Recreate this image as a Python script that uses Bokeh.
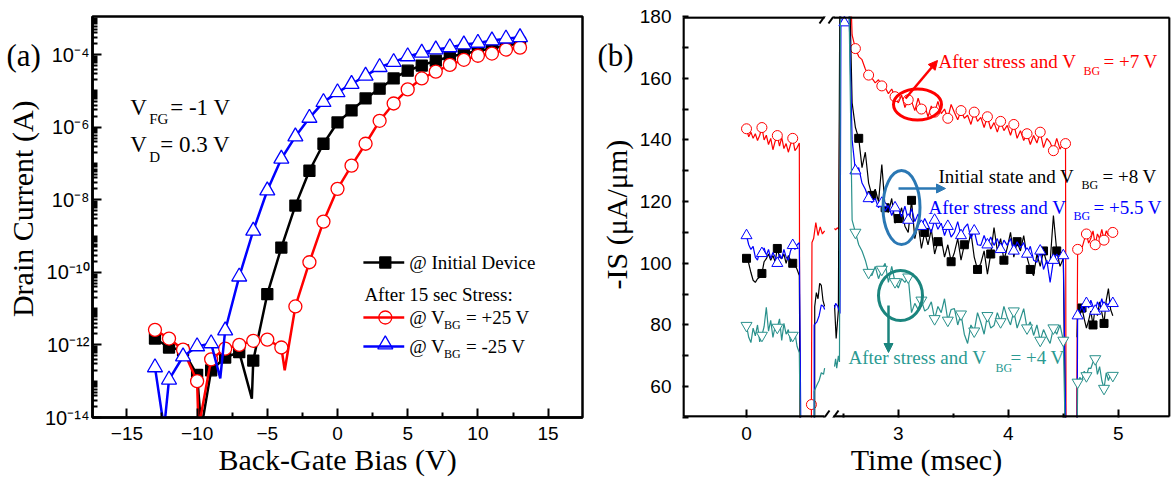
import numpy as np
from bokeh.plotting import figure
from bokeh.layouts import row
from bokeh.models import FixedTicker, Label, Arrow, NormalHead, Range1d
from bokeh.embed import file_html
from bokeh.resources import INLINE

SERIF = "Liberation Serif"
SANS = "Liberation Sans"

# ---------------- Panel (a) data ----------------
vbg = list(range(-13, 14))
id_initial = [1.5e-12, 8.5e-13, 7.1e-13, 1.5e-13, 2.0e-13, 4.5e-13, 6.3e-13, 3.7e-13, 2.5e-11,
              4.8e-10, 6.9e-9, 6.3e-8, 3.5e-7, 1.35e-6, 2.9e-6, 6.2e-6, 1.15e-5, 2.2e-5, 3.6e-5,
              5.0e-5, 6.8e-5, 8.7e-5, 1.05e-4, 1.25e-4, 1.5e-4, 1.75e-4, 2.1e-4]
id_pos25 = [2.6e-12, 1.5e-12, 7.4e-13, 1.0e-13, 4.0e-13, 7.9e-13, 1.0e-12, 1.3e-12, 1.4e-12,
            8.5e-13, 1.15e-11, 1.9e-10, 2.5e-9, 2.0e-8, 8.7e-8, 3.5e-7, 1.5e-6, 4.5e-6, 1.1e-5,
            2.2e-5, 3.4e-5, 5.2e-5, 7.2e-5, 9.3e-5, 1.07e-4, 1.38e-4, 1.55e-4]
id_neg25 = [2.4e-13, 1.1e-13, 4.8e-13, 9.1e-13, 1.1e-12, 2.5e-12, 7.6e-11, 1.4e-9, 1.8e-8,
            1.35e-7, 5.5e-7, 1.8e-6, 4.9e-6, 9.1e-6, 1.55e-5, 2.6e-5, 4.5e-5, 6.2e-5, 8.9e-5,
            1.12e-4, 1.38e-4, 1.58e-4, 1.9e-4, 2.1e-4, 2.45e-4, 2.75e-4, 3.0e-4]
# sign-change dips of |I| (between the measured points)
dip_initial_v = [-9.7, -6.1]
dip_initial_i = [5e-15, 3.3e-14]
dip_pos25_v = [-9.9, -3.76]
dip_pos25_i = [5e-15, 2.0e-13]
dip_neg25_v = [-12.35, -8.35]
dip_neg25_i = [5e-15, 1.2e-13]

# ---------------- Panel (b) data ----------------
t_left = [round(0.02 * i, 3) for i in range(25)]
red_left = [143.6, 141.0, 142.5, 140.5, 142.0, 139.8, 141.5, 144.0, 140.0, 141.5, 138.5, 140.5, 136.8,
            139.5, 141.4, 138.0, 140.8, 137.2, 138.8, 136.0, 138.5, 140.5, 136.5, 137.5, 139.0]
black_left = [101.6, 100.0, 97.0, 94.5, 93.8, 95.0, 95.5, 96.7, 100.5, 101.5, 103.0, 101.0, 102.5,
              100.5, 104.8, 102.0, 101.5, 103.0, 100.0, 102.5, 101.0, 100.0, 99.5, 98.0, 96.0]
blue_left = [109.0, 106.0, 104.5, 105.5, 102.0, 101.0, 104.0, 103.2, 105.0, 102.5, 104.5, 101.5, 103.5,
             102.0, 100.0, 103.0, 101.5, 104.5, 102.0, 101.0, 104.0, 105.8, 104.5, 106.0, 106.7]
teal_left = [79.8, 76.0, 74.3, 79.0, 76.5, 80.0, 74.5, 76.6, 79.5, 85.7, 78.0, 81.5, 76.0,
             79.5, 79.2, 82.0, 75.0, 80.5, 77.0, 78.5, 74.5, 76.6, 77.5, 73.0, 71.0]

red_mid_t = [0.59, 0.59, 0.595, 0.61, 0.63, 0.65, 0.67, 0.69, 0.71]
red_mid = [40, 54.2, 106.7, 108, 113.2, 109, 111.8, 109.5, 110.5]
black_mid_t = [0.62, 0.62, 0.635, 0.65, 0.665, 0.68, 0.695, 0.71]
black_mid = [40, 86, 90.5, 88.5, 93.5, 92.8, 88, 86]
blue_mid_t = [0.615, 0.615, 0.64, 0.66, 0.68, 0.70, 0.71]
blue_mid = [40, 80, 81, 83, 86.5, 86, 85]
teal_mid_t = [0.615, 0.615, 0.64, 0.66, 0.68, 0.70, 0.71]
teal_mid = [40, 58.5, 60.5, 62, 64.5, 64, 66]

red_pre_t = [2.42, 2.43, 2.445, 2.46, 2.475, 2.555]
red_pre = [111.3, 110.8, 111.5, 111.0, 200, 200]
black_pre_t = [2.42, 2.435, 2.455, 2.47, 2.55]
black_pre = [86.5, 75.6, 84.7, 200, 200]
blue_pre_t = [2.42, 2.43, 2.45, 2.47, 2.48, 2.51, 2.54]
blue_pre = [85.5, 87.0, 86.0, 83.7, 200, 178, 200]
teal_pre_t = [2.42, 2.43, 2.44, 2.455, 2.465, 2.475, 2.545]
teal_pre = [66.5, 69.0, 66.0, 70.0, 68.0, 200, 200]

t_post = [round(2.58 + 0.03 * i, 3) for i in range(65)]
red_post = [174, 169.6, 167, 166, 163, 161, 160, 158.5, 159.5, 157.5,
            157, 155, 156.5, 154, 152, 154.5, 150.5, 153, 152.5, 149.5,
            153.5, 150, 151.2, 147.5, 151, 149, 152.5, 148.5, 150, 147,
            151.5, 148.9, 146.5, 149.5, 147, 148, 145, 149, 146, 147.3,
            144, 147.5, 143.5, 145.6, 142.5, 146, 143, 144.7, 141.5, 145,
            140.5, 143, 139.8, 142, 138.5, 141.4, 139, 142.5, 137.5, 140.5,
            139.2, 136.5, 140.5, 137, 139]
black_post = [152, 144, 140.5, 131, 136, 126, 122, 124, 120, 132,
              118, 116.5, 121, 113, 114.5, 118, 112, 110, 120.4, 108,
              113, 104.8, 110, 106, 111, 103, 107, 108, 102, 106,
              100.5, 103.5, 108, 101, 106, 105, 110, 102, 98, 100,
              104, 96.5, 103, 111.6, 104, 108, 101, 105, 110, 102,
              107, 104, 109, 102, 98, 96, 103, 99, 104, 100,
              100.3, 115.5, 104, 99, 101.6]
blue_post = [140, 130, 131, 126, 124, 121, 119.7, 121, 118, 119.5,
             117, 118.7, 115.5, 118, 117.7, 115, 118.5, 114, 117.7, 113.5,
             116, 112, 114.5, 112.3, 110, 114, 111, 113, 109, 112,
             108.5, 110, 113.5, 109, 111.5, 112.8, 108, 110.5, 106, 105.8,
             109, 106, 108.5, 105.8, 108, 104.5, 107.5, 105.8, 108, 104,
             107, 105, 106.7, 103, 105.5, 101, 100.3, 104, 98, 101,
             93.8, 101, 103, 101.5, 102.5]
teal_post = [114, 110, 106, 104, 101, 97, 96, 99, 95, 98,
             100, 93.8, 99, 94, 92, 95, 93.8, 95.5, 84, 87,
             85, 88, 84.5, 85.3, 87.5, 82, 86, 84, 88.5, 81.5,
             85, 85.3, 80, 83.5, 77, 74, 80, 78, 84, 80.8,
             77, 83, 79, 79.8, 84, 81, 86, 82.4, 80, 84.5,
             79, 82, 85.3, 79, 81, 76.6, 80, 75, 78.5, 76,
             74, 79, 77, 80, 75]

t_fin = [round(4.63 + 0.02 * i, 3) for i in range(17)]
red_fin = [104.5, 106.0, 105.0, 107.5, 109.5, 106.5, 108.0, 110.5, 106.0, 109.5, 108.0, 111.0,
           107.5, 110.5, 109.0, 111.5, 110.0]
black_fin = [84.0, 83.0, 85.5, 82.0, 79.0, 81.5, 84.5, 80.0, 86.0, 83.0, 87.5, 84.0,
             80.5, 88.0, 91.8, 85.0, 83.0]
blue_fin = [83.0, 84.5, 86.0, 84.0, 87.0, 85.5, 88.0, 86.0, 84.5, 87.5, 86.0, 88.5,
            85.5, 87.0, 86.5, 88.0, 87.0]
teal_fin = [61.4, 63.0, 62.0, 65.0, 63.5, 66.0, 65.9, 68.0, 69.0, 64.0, 66.5, 62.0,
            59.4, 64.5, 62.0, 64.0, 63.6]

time_ticks = [0, 3, 4, 5]
time_minor = [2.5, 3.5, 4.5]
is_ticks = [60, 80, 100, 120, 140, 160, 180]
is_minor = [50, 70, 90, 110, 130, 150, 170]

# ---------------- layout constants (page pixels) ----------------
H = 479
LAB_A_W = 41
PA_X0 = LAB_A_W
PB_LAB_X0 = 584
LAB_B_W = 50
PB_X0 = PB_LAB_X0 + LAB_B_W
XA0, XA1, YA0, YA1 = -17.45, 17.45, -14.0, -2.95
FA_L, FA_T, FA_W, FA_H = 90, 16, 492, 401
FB_L, FB_T, FB_W, FB_H = 682, 16, 488, 401
XB0 = -0.582
XB1 = XB0 + FB_W / 110.0
YB0, YB1 = 50, 180
BREAK_SHIFT = 1.62


def xa(px):
    return XA0 + (px - FA_L) / FA_W * (XA1 - XA0)


def ya(py):
    return 10 ** (YA0 + (FA_T + FA_H - py) / FA_H * (YA1 - YA0))


def xb(px):
    return XB0 + (px - FB_L) / FB_W * (XB1 - XB0)


def yb(py):
    return YB0 + (FB_T + FB_H - py) / FB_H * (YB1 - YB0)


def disp(ts):
    return [t if t < 1.5 else t - BREAK_SHIFT for t in ts]


def add_text(p, parts, cx, cy, color):
    # parts: (text, left x, baseline y, font size) in page pixels
    for s, px, py, size in parts:
        p.add_layout(Label(x=cx(px), y=cy(py - 0.34 * size), text=s, text_font=SERIF,
                           text_font_size=f"{size}px", text_color=color,
                           text_baseline="middle", text_align="left"))


def label_strip(width):
    f = figure(width=width, height=H, x_range=Range1d(0, width), y_range=Range1d(H, 0),
               output_backend="svg", toolbar_location=None, min_border=0,
               x_axis_location=None, y_axis_location=None)
    f.grid.visible = False
    f.outline_line_color = None
    f.background_fill_color = "white"
    f.border_fill_color = "white"
    return f


SUP = str.maketrans("-0123456789", "⁻⁰¹²³⁴⁵⁶⁷⁸⁹")

# ================= label strip for (a) =================
la = label_strip(LAB_A_W)
add_text(la, [("(a)", 6, 57, 31)], lambda v: v, lambda v: v, "black")
la.add_layout(Label(x=22, y=359, text="Drain Current (A)", text_font=SERIF, text_color="black",
                    text_font_size="30px", angle=np.pi / 2, text_align="left",
                    text_baseline="middle"))

# ================= Panel (a) =================
pa = figure(width=PB_LAB_X0 - PA_X0, height=H, x_range=Range1d(XA0, XA1),
            y_range=Range1d(10 ** YA0, 10 ** YA1), y_axis_type="log",
            output_backend="svg", toolbar_location=None,
            min_border_left=FA_L - PA_X0, min_border_right=2, min_border_top=FA_T,
            min_border_bottom=H - FA_T - FA_H)
pa.grid.visible = False
pa.outline_line_color = "black"
pa.outline_line_width = 2.5
pa.background_fill_color = "white"
pa.border_fill_color = "white"

major_dec = list(range(-14, -3, 2))
maj = [float(f"1e{e}") for e in major_dec]
minor = []
for n in range(-14, -2):
    for k in range(1, 10):
        v = float(f"{k}e{n}")
        if k == 1 and n in major_dec:
            continue
        if v <= 10 ** YA1:
            minor.append(v)
pa.yaxis.ticker = FixedTicker(ticks=maj, minor_ticks=minor)
pa.yaxis.major_label_overrides = {v: "10" + str(e).translate(SUP) for v, e in zip(maj, major_dec)}
pa.xaxis.ticker = FixedTicker(ticks=[-15, -10, -5, 0, 5, 10, 15],
                              minor_ticks=[-12.5, -7.5, -2.5, 2.5, 7.5, 12.5])
for ax in (pa.xaxis[0], pa.yaxis[0]):
    ax.axis_line_width = 2.5
    ax.major_tick_in = 9
    ax.major_tick_out = 0
    ax.minor_tick_in = 5
    ax.minor_tick_out = 0
    ax.major_tick_line_width = 2
    ax.minor_tick_line_width = 2
    ax.major_label_text_font = SANS
    ax.major_label_text_color = "black"
pa.xaxis.major_label_text_font_size = "19px"
pa.yaxis.major_label_text_font_size = "20px"
pa.xaxis.major_label_standoff = 9
pa.yaxis.major_label_standoff = 3
pa.xaxis.axis_label = "Back-Gate Bias (V)"
pa.xaxis.axis_label_text_font = SERIF
pa.xaxis.axis_label_text_font_size = "30px"
pa.xaxis.axis_label_text_font_style = "normal"
pa.xaxis.axis_label_text_color = "black"
pa.xaxis.axis_label_standoff = 0


def merged(v, i, dv, di):
    pts = sorted(list(zip(v, i)) + list(zip(dv, di)))
    return [a for a, b in pts], [b for a, b in pts]


for vals, dv, di, col, mk, sz in [
    (id_initial, dip_initial_v, dip_initial_i, "black", "square", 11),
    (id_pos25, dip_pos25_v, dip_pos25_i, "red", "circle", 13),
    (id_neg25, dip_neg25_v, dip_neg25_i, "blue", "triangle", 15),
]:
    lx, ly = merged(vbg, vals, dv, di)
    pa.line(lx, ly, line_color=col, line_width=2.5)
    pa.scatter(vbg, vals, marker=mk, size=sz, line_color=col, line_width=1.3,
               fill_color="black" if col == "black" else "white")

add_text(pa, [("V", 128, 115, 23), ("FG", 147, 124, 15), ("= -1 V", 168, 115, 23)], xa, ya, "black")
add_text(pa, [("V", 128, 152, 23), ("D", 147, 162, 15), ("= 0.3 V", 158, 152, 23)], xa, ya, "black")

# legend (a)
for py_line, col, mk, sz, mpy in [(262, "black", "square", 11, 262), (317, "red", "circle", 13, 317),
                                  (346, "blue", "triangle", 15, 344)]:
    pa.add_layout(Arrow(x_start=xa(362), y_start=ya(py_line), x_end=xa(403), y_end=ya(py_line),
                        end=None, line_color=col, line_width=2.5))
    pa.scatter([xa(384)], [ya(mpy)], marker=mk, size=sz, line_color=col, line_width=1.3,
               fill_color="black" if col == "black" else "white")
add_text(pa, [("@ Initial Device", 408, 268, 19)], xa, ya, "black")
add_text(pa, [("After 15 sec Stress:", 363, 300, 19)], xa, ya, "black")
add_text(pa, [("@ V", 408, 323, 19), ("BG", 443, 329, 12), ("= +25 V", 465, 323, 19)], xa, ya, "black")
add_text(pa, [("@ V", 408, 352, 19), ("BG", 443, 358, 12), ("= -25 V", 465, 352, 19)], xa, ya, "black")

# ================= label strip for (b) =================
lb = label_strip(LAB_B_W)
add_text(lb, [("(b)", 597 - PB_LAB_X0, 57, 31)], lambda v: v, lambda v: v, "black")
lb.add_layout(Label(x=616 - PB_LAB_X0, y=326, text="-IS (μA/μm)", text_font=SERIF,
                    text_color="black", text_font_size="30px", angle=np.pi / 2,
                    text_align="left", text_baseline="middle"))

# ================= Panel (b) =================
pb = figure(width=1172 - PB_X0, height=H, x_range=Range1d(XB0, XB1), y_range=Range1d(YB0, YB1),
            output_backend="svg", toolbar_location=None,
            min_border_left=FB_L - PB_X0, min_border_right=1172 - FB_L - FB_W,
            min_border_top=FB_T, min_border_bottom=H - FB_T - FB_H)
pb.grid.visible = False
pb.outline_line_color = None
pb.background_fill_color = "white"
pb.border_fill_color = "white"
xt = disp(time_ticks)
pb.xaxis.ticker = FixedTicker(ticks=xt, minor_ticks=disp(time_minor))
pb.xaxis.major_label_overrides = {d: str(t) for d, t in zip(xt, time_ticks)}
pb.yaxis.ticker = FixedTicker(ticks=is_ticks, minor_ticks=is_minor)
for ax in (pb.xaxis[0], pb.yaxis[0]):
    ax.axis_line_color = None
    ax.major_tick_out = 0
    ax.minor_tick_out = 0
    ax.major_tick_line_width = 2
    ax.minor_tick_line_width = 2
    ax.major_label_text_font = SANS
    ax.major_label_text_font_size = "19px"
    ax.major_label_text_color = "black"
pb.xaxis.major_label_standoff = 9
pb.yaxis.major_label_standoff = 11
pb.xaxis.major_tick_in = 8
pb.xaxis.minor_tick_in = 4
pb.yaxis.major_tick_in = 6
pb.yaxis.minor_tick_in = 6
pb.xaxis.axis_label = "Time (msec)"
pb.xaxis.axis_label_text_font = SERIF
pb.xaxis.axis_label_text_font_size = "30px"
pb.xaxis.axis_label_text_font_style = "normal"
pb.xaxis.axis_label_text_color = "black"
pb.xaxis.axis_label_standoff = 0

C_RED, C_BLK, C_BLU, C_TEAL = "#ff0000", "#000000", "#0000ff", "#2a918c"

series_b = [
    (C_RED, "circle", 10, "white", [
        (t_left + [0.485], red_left + [40], list(range(0, 25, 7))),
        (red_mid_t, red_mid, [1]),
        (red_pre_t + t_post + [4.52, 4.525], red_pre + red_post + [138.8, 40],
         [len(red_pre) + i for i in range(1, 65, 4)] + [len(red_pre) + 65]),
        ([4.62] + t_fin, [40] + red_fin, [1 + i for i in range(0, 17, 4)]),
    ]),
    (C_BLK, "square", 8, "black", [
        (t_left + [0.49], black_left + [40], list(range(0, 25, 7))),
        (black_mid_t, black_mid, []),
        (black_pre_t + t_post + [4.52], black_pre + black_post + [40],
         [len(black_pre) + i for i in range(2, 65, 4)]),
        ([4.625] + t_fin, [76] + black_fin, [1 + i for i in range(2, 17, 5)]),
    ]),
    (C_BLU, "triangle", 11, "white", [
        (t_left + [0.495], blue_left + [40], list(range(0, 25, 7))),
        (blue_mid_t, blue_mid, []),
        (blue_pre_t + t_post + [4.525], blue_pre + blue_post + [40],
         [5] + [len(blue_pre) + i for i in range(1, 65, 4)] + [len(blue_pre) + 64]),
        ([4.625] + t_fin, [40] + blue_fin, [1 + i for i in range(0, 17, 4)]),
    ]),
    (C_TEAL, "inverted_triangle", 11, "white", [
        (t_left + [0.49], teal_left + [40], list(range(0, 25, 7))),
        (teal_mid_t, teal_mid, []),
        (teal_pre_t + t_post + [4.52], teal_pre + teal_post + [40],
         [len(teal_pre) + i for i in range(1, 65, 4)] + [len(teal_pre) + 64]),
        ([4.625] + t_fin, [40] + teal_fin, [1 + i for i in range(0, 17, 4)]),
    ]),
]
for col, mk, sz, fill, segs in series_b:
    for ts, ys, midx in segs:
        dx = disp(ts)
        pb.line(dx, ys, line_color=col, line_width=1.2)
        if midx:
            pb.scatter([dx[i] for i in midx], [ys[i] for i in midx], marker=mk, size=sz,
                       line_color=col, fill_color=fill, line_width=1)

# frame with axis break (drawn 1 px inside the frame edge so it is not clipped)
FR = dict(end=None, line_color="black", line_width=2.5)
fl, fr, fb_, ft = xb(FB_L + 1), xb(FB_L + FB_W - 1), yb(FB_T + FB_H - 1), yb(FB_T + 1)
gap_l, gap_r = xb(824), xb(833)
for yy in (fb_, ft):
    pb.add_layout(Arrow(x_start=fl, y_start=yy, x_end=gap_l, y_end=yy, **FR))
    pb.add_layout(Arrow(x_start=gap_r, y_start=yy, x_end=fr, y_end=yy, **FR))
for xx in (fl, fr):
    pb.add_layout(Arrow(x_start=xx, y_start=fb_, x_end=xx, y_end=ft, **FR))
for pyc in (FB_T, FB_T + FB_H):
    for pxc in (824, 833):
        pb.add_layout(Arrow(x_start=xb(pxc - 5), y_start=yb(pyc + 7), x_end=xb(pxc + 5),
                            y_end=yb(pyc - 7), end=None, line_color="black", line_width=2))

# annotations (b)
C_SB, C_TE = "#2b78b4", "#1b857e"
pb.ellipse(x=[xb(917)], y=[yb(104)], width=[48], height=[31], width_units="screen",
           height_units="screen", fill_color=None, line_color=C_RED, line_width=3)
pb.ellipse(x=[xb(901)], y=[yb(207)], width=[37], height=[74], width_units="screen",
           height_units="screen", fill_color=None, line_color=C_SB, line_width=3)
pb.ellipse(x=[xb(900)], y=[yb(295)], width=[44], height=[50], width_units="screen",
           height_units="screen", fill_color=None, line_color=C_TE, line_width=3)
pb.add_layout(Arrow(x_start=xb(905), y_start=yb(98), x_end=xb(937), y_end=yb(60),
                    end=NormalHead(size=9, fill_color=C_RED, line_color=C_RED),
                    line_color=C_RED, line_width=2.5))
pb.add_layout(Arrow(x_start=xb(898), y_start=yb(188), x_end=xb(945), y_end=yb(188),
                    end=NormalHead(size=9, fill_color=C_SB, line_color=C_SB),
                    line_color=C_SB, line_width=2.5))
pb.add_layout(Arrow(x_start=xb(888), y_start=yb(305), x_end=xb(888), y_end=yb(352),
                    end=NormalHead(size=9, fill_color=C_TE, line_color=C_TE),
                    line_color=C_TE, line_width=2.5))

add_text(pb, [("After stress and V", 938, 67, 19), ("BG", 1083, 75, 12), ("= +7 V", 1103, 67, 19)],
         xb, yb, C_RED)
add_text(pb, [("Initial state and V", 938, 182, 19), ("BG", 1081, 189, 12), ("= +8 V", 1102, 182, 19)],
         xb, yb, "black")
add_text(pb, [("After stress and V", 928, 213, 19), ("BG", 1073, 220, 12), ("= +5.5 V", 1093, 213, 19)],
         xb, yb, C_BLU)
add_text(pb, [("After stress and V", 848, 363, 19), ("BG", 995, 372, 12), ("= +4 V", 1010, 363, 19)],
         xb, yb, "#2a9a92")

layout = row(la, pa, lb, pb)
open("out.html", "w").write(file_html(layout, INLINE))
